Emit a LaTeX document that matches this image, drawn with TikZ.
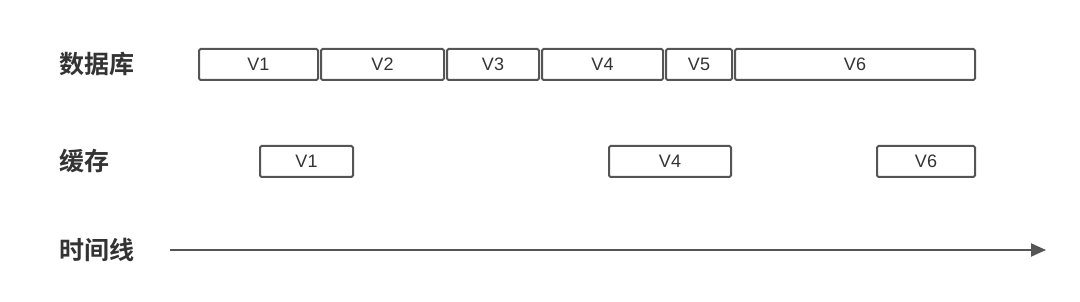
\documentclass[tikz,border=0pt]{standalone}
\usepackage{fontspec}
\setmainfont{Liberation Sans}
\newfontfamily\cjk{Noto Sans CJK SC}[BoldFont={* Bold}]
\usetikzlibrary{arrows.meta}
\definecolor{edge}{HTML}{555555}
\definecolor{txt}{HTML}{333333}
\tikzset{
  vbox/.style={draw=edge, line width=2pt, rounded corners=1.5pt, inner sep=0pt, text=txt, font=\fontsize{18}{18}\selectfont},
  rowlabel/.style={anchor=west, inner sep=0pt, text=txt, font=\cjk\fontsize{25}{25}\selectfont\bfseries},
}
\newcommand{\vb}[6]{\node[vbox, minimum width=#3pt-#2pt, minimum height=#5pt-#4pt] (#1) at ({(#2+#3)/2}, {(#4+#5)/2}) {#6};}
\begin{document}
\begin{tikzpicture}[x=1pt, y=-1pt]
\useasboundingbox (0,0) rectangle (1080,302);
\node[rowlabel] (ldb) at (59,64) {数据库};
\node[rowlabel] (lcache) at (59,161) {缓存};
\node[rowlabel] (ltime) at (59,250) {时间线};
\vb{d1}{199}{318}{49}{80}{V1}
\vb{d2}{321}{444}{49}{80}{V2}
\vb{d3}{447}{539}{49}{80}{V3}
\vb{d4}{542}{663}{49}{80}{V4}
\vb{d5}{666}{732}{49}{80}{V5}
\vb{d6}{735}{975}{49}{80}{V6}
\vb{c1}{260}{353}{146}{177}{V1}
\vb{c4}{609}{731}{146}{177}{V4}
\vb{c6}{877}{975}{146}{177}{V6}
\coordinate (ts) at (170,250);
\coordinate (te) at (1046,250);
\draw[edge, line width=2pt, -{Triangle[length=15pt, width=13pt]}] (ts) -- (te);
\end{tikzpicture}
\end{document}
